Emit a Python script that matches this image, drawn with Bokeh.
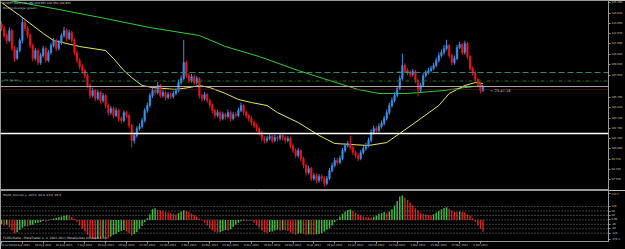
from bokeh.plotting import figure
from bokeh.models import Range1d, Span, Label, LinearAxis, FixedTicker, ColumnDataSource, PrintfTickFormatter
from bokeh.layouts import column
from bokeh.embed import file_html
from bokeh.resources import INLINE

symbol = "EURJPY,Daily"

opens = [112.95, 112.56, 111.87, 111.38, 112.36, 110.60, 109.62, 110.40, 111.38, 113.14,
         112.56, 111.87, 110.89, 109.62, 110.40, 109.22, 109.91, 110.60, 109.42, 110.20,
         110.89, 111.38, 110.60, 111.18, 111.87, 112.36, 111.58, 112.16, 111.38, 110.20,
         109.42, 108.83, 108.44, 107.95, 106.97, 105.99, 106.48, 105.70, 106.28, 105.50,
         105.99, 105.01, 104.32, 104.72, 104.03, 104.52, 103.74, 103.54, 104.32, 104.03,
         103.05, 101.58, 102.07, 102.76, 102.95, 103.54, 104.52, 105.01, 105.99, 106.48,
         106.28, 106.97, 105.99, 106.28, 105.79, 106.09, 105.89, 106.19, 106.48, 107.26,
         107.66, 109.22, 107.95, 107.46, 107.85, 107.26, 107.66, 105.99, 105.70, 106.09,
         105.50, 105.01, 104.52, 104.03, 104.32, 103.74, 104.13, 103.93, 104.32, 103.74,
         104.13, 104.03, 104.52, 105.01, 104.32, 104.03, 103.74, 103.34, 103.05, 102.76,
         102.36, 101.78, 101.58, 101.78, 101.97, 101.58, 101.87, 101.78, 102.07, 101.87,
         101.58, 101.78, 101.09, 100.60, 100.11, 100.60, 99.82, 99.13, 98.44, 98.84,
         97.86, 98.15, 97.66, 98.05, 97.86, 97.37, 97.86, 98.64, 99.13, 99.62,
         99.42, 99.82, 100.60, 101.09, 101.29, 100.89, 100.40, 100.11, 99.82, 100.40,
         100.80, 101.09, 101.58, 102.36, 102.76, 102.56, 102.95, 103.25, 103.74, 104.32,
         105.01, 105.50, 105.99, 106.68, 107.66, 108.93, 108.44, 108.24, 108.05, 108.34,
         107.46, 106.48, 106.97, 107.95, 108.24, 108.44, 108.64, 108.93, 109.42, 109.91,
         110.20, 110.60, 110.89, 109.91, 109.22, 109.62, 110.69, 110.99, 110.20, 111.09,
         109.81, 108.64, 108.24, 107.56, 107.07, 106.48]

highs = [113.25, 112.80, 112.10, 112.65, 112.50, 110.85, 110.70, 111.60, 113.60, 113.40,
         112.80, 112.05, 111.10, 110.65, 110.60, 110.15, 110.85, 110.80, 110.45, 111.15,
         111.65, 111.55, 111.45, 112.10, 112.70, 112.55, 112.45, 112.35, 111.55, 110.40,
         109.65, 109.05, 108.65, 108.15, 107.15, 106.75, 106.65, 106.55, 106.45, 106.25,
         106.15, 105.20, 104.95, 104.90, 104.80, 104.70, 103.95, 104.55, 104.50, 104.20,
         103.20, 102.35, 103.00, 103.25, 103.80, 104.75, 105.30, 106.25, 106.75, 106.70,
         107.30, 107.15, 106.55, 106.45, 106.35, 106.30, 106.45, 106.75, 107.55, 107.95,
         111.45, 109.40, 108.20, 108.10, 108.05, 107.90, 107.80, 106.20, 106.35, 106.25,
         105.70, 105.20, 104.70, 104.60, 104.50, 104.40, 104.30, 104.60, 104.50, 104.40,
         104.35, 104.80, 105.30, 105.15, 104.50, 104.20, 103.95, 103.55, 103.25, 102.95,
         102.55, 102.00, 102.05, 102.25, 102.15, 102.15, 102.05, 102.35, 102.25, 102.05,
         102.00, 101.95, 101.30, 100.80, 100.85, 100.75, 100.00, 99.30, 99.10, 99.00,
         98.40, 98.35, 98.30, 98.25, 98.05, 98.10, 98.90, 99.40, 99.90, 99.85,
         100.10, 100.85, 101.35, 101.55, 102.05, 101.10, 100.60, 100.35, 100.65, 101.05,
         101.35, 101.85, 102.65, 103.05, 103.00, 103.25, 103.55, 104.00, 104.60, 105.30,
         105.80, 106.30, 106.95, 107.95, 110.10, 109.15, 108.65, 108.45, 108.60, 108.50,
         107.65, 107.25, 108.20, 108.50, 108.70, 108.90, 109.20, 109.70, 110.20, 110.50,
         110.95, 111.45, 111.05, 110.10, 109.90, 110.95, 111.25, 111.15, 111.35, 111.25,
         109.95, 108.85, 108.40, 107.75, 107.25, 106.95]

lows = [112.30, 111.60, 111.05, 111.20, 110.35, 109.30, 109.45, 110.20, 111.10, 112.30,
        111.60, 110.60, 109.35, 109.40, 108.95, 109.00, 109.70, 109.20, 109.25, 110.00,
        110.70, 110.35, 110.40, 110.95, 111.65, 111.30, 111.40, 111.15, 109.95, 109.15,
        108.55, 108.15, 107.70, 106.70, 105.70, 105.80, 105.40, 105.50, 105.20, 105.30,
        104.75, 104.05, 104.10, 103.75, 103.85, 103.45, 103.25, 103.35, 103.80, 102.80,
        100.90, 101.30, 101.85, 102.55, 102.75, 103.35, 104.30, 104.80, 105.75, 106.00,
        106.10, 105.75, 105.80, 105.55, 105.60, 105.65, 105.70, 106.00, 106.30, 107.05,
        107.50, 107.70, 107.20, 107.25, 107.00, 107.05, 105.70, 105.40, 105.50, 105.25,
        104.75, 104.25, 103.75, 103.85, 103.45, 103.55, 103.65, 103.75, 103.45, 103.55,
        103.80, 103.85, 104.35, 104.05, 103.75, 103.45, 103.05, 102.80, 102.45, 102.05,
        101.50, 101.30, 101.35, 101.60, 101.30, 101.40, 101.50, 101.60, 101.60, 101.30,
        101.40, 100.85, 100.35, 99.85, 99.90, 99.55, 98.85, 98.15, 98.25, 97.60,
        97.65, 97.40, 97.45, 97.55, 97.04, 97.20, 97.70, 98.45, 98.95, 99.15,
        99.25, 99.65, 100.40, 100.90, 100.65, 100.15, 99.85, 99.55, 99.65, 100.20,
        100.60, 100.90, 101.40, 102.15, 102.30, 102.35, 102.75, 103.05, 103.55, 104.10,
        104.80, 105.30, 105.80, 106.50, 107.45, 108.20, 107.95, 107.80, 107.85, 107.20,
        105.90, 106.30, 106.80, 107.75, 108.05, 108.25, 108.45, 108.75, 109.20, 109.70,
        110.00, 110.40, 109.65, 108.95, 109.00, 109.45, 110.55, 109.95, 110.00, 109.55,
        108.40, 107.95, 107.30, 106.80, 106.20, 106.35]

closes = [112.56, 111.87, 111.38, 112.36, 110.60, 109.62, 110.40, 111.38, 113.14, 112.56,
          111.87, 110.89, 109.62, 110.40, 109.22, 109.91, 110.60, 109.42, 110.20, 110.89,
          111.38, 110.60, 111.18, 111.87, 112.36, 111.58, 112.16, 111.38, 110.20, 109.42,
          108.83, 108.44, 107.95, 106.97, 105.99, 106.48, 105.70, 106.28, 105.50, 105.99,
          105.01, 104.32, 104.72, 104.03, 104.52, 103.74, 103.54, 104.32, 104.03, 103.05,
          101.58, 102.07, 102.76, 102.95, 103.54, 104.52, 105.01, 105.99, 106.48, 106.28,
          106.97, 105.99, 106.28, 105.79, 106.09, 105.89, 106.19, 106.48, 107.26, 107.66,
          109.22, 107.95, 107.46, 107.85, 107.26, 107.66, 105.99, 105.70, 106.09, 105.50,
          105.01, 104.52, 104.03, 104.32, 103.74, 104.13, 103.93, 104.32, 103.74, 104.13,
          104.03, 104.52, 105.01, 104.32, 104.03, 103.74, 103.34, 103.05, 102.76, 102.36,
          101.78, 101.58, 101.78, 101.97, 101.58, 101.87, 101.78, 102.07, 101.87, 101.58,
          101.78, 101.09, 100.60, 100.11, 100.60, 99.82, 99.13, 98.44, 98.84, 97.86,
          98.15, 97.66, 98.05, 97.86, 97.37, 97.86, 98.64, 99.13, 99.62, 99.42,
          99.82, 100.60, 101.09, 101.29, 100.89, 100.40, 100.11, 99.82, 100.40, 100.80,
          101.09, 101.58, 102.36, 102.76, 102.56, 102.95, 103.25, 103.74, 104.32, 105.01,
          105.50, 105.99, 106.68, 107.66, 108.93, 108.44, 108.24, 108.05, 108.34, 107.46,
          106.48, 106.97, 107.95, 108.24, 108.44, 108.64, 108.93, 109.42, 109.91, 110.20,
          110.60, 110.89, 109.91, 109.22, 109.62, 110.69, 110.99, 110.20, 111.09, 109.81,
          108.64, 108.24, 107.56, 107.07, 106.48, 106.87]

macd_hist = [-40, -52, -45, -68, -95, -120, -112, -92, -72, -58,
             -60, -48, -44, -30, -28, -20, -10, -14, -6, 4,
             10, 18, 24, 30, 38, 44, 40, 26, 8, -20,
             -50, -80, -105, -135, -160, -170, -175, -168, -172, -160,
             -162, -165, -150, -135, -128, -110, -100, -92, -105, -120,
             -140, -128, -110, -80, -55, -20, 15, 50, 95, 104,
             92, 85, 78, 72, 66, 60, 52, 48, 62, 75,
             87, 80, 70, 58, 45, 30, 12, -5, -25, -50,
             -75, -95, -110, -115, -112, -100, -92, -96, -85, -65,
             -45, -25, -12, -8, -12, -6, -10, -25, -48, -72,
             -95, -112, -118, -110, -104, -95, -90, -100, -92, -96,
             -100, -115, -125, -135, -125, -120, -128, -135, -130, -132,
             -135, -130, -128, -120, -105, -90, -75, -50, -20, 5,
             30, 55, 75, 90, 95, 80, 65, 50, 40, 30,
             25, 22, 20, 28, 40, 55, 60, 70, 60, 75,
             95, 130, 170, 210, 220, 200, 180, 155, 130, 105,
             85, 65, 55, 48, 45, 42, 50, 65, 80, 95,
             108, 115, 100, 85, 72, 70, 75, 72, 68, 50,
             40, 15, -20, -50, -80, -105]

ma_fast_bars = [0, 7, 16, 20, 30, 40, 43, 47, 50, 54, 58, 67, 72, 76, 80, 86, 91, 96, 102, 106,
                114, 122, 128, 134, 141, 148, 153, 160, 168, 172, 178, 182, 185]
ma_fast = [115.10, 113.83, 112.07, 111.38, 110.79, 110.40, 109.62, 108.44, 107.75, 106.97,
           106.77, 106.58, 106.77, 106.97, 106.77, 106.19, 105.60, 105.30, 105.01, 104.32,
           103.34, 102.07, 101.29, 101.19, 101.09, 101.38, 102.27, 103.54, 105.01, 106.19,
           106.97, 107.26, 107.17]

ma_slow_bars = [3, 22, 38, 57, 76, 86, 99, 114, 126, 137, 145, 156, 170, 178, 185]
ma_slow = [115.30, 114.42, 113.63, 112.65, 111.87, 110.79, 109.81, 108.44, 107.46, 106.58,
           106.19, 106.19, 106.48, 106.77, 106.97]

date_tick_bars = [0, 8, 16, 24, 32, 40, 48, 56, 64, 72, 80, 88, 96, 104, 112, 120, 128, 136,
                  144, 152, 160, 168, 176, 184]
date_tick_labels = ["21 Jul 2011", "4 Aug 2011", "16 Aug 2011", "26 Aug 2011", "7 Sep 2011",
                    "19 Sep 2011", "29 Sep 2011", "11 Oct 2011", "21 Oct 2011", "2 Nov 2011",
                    "14 Nov 2011", "24 Nov 2011", "6 Dec 2011", "16 Dec 2011", "28 Dec 2011",
                    "9 Jan 2012", "19 Jan 2012", "31 Jan 2012", "10 Feb 2012", "22 Feb 2012",
                    "5 Mar 2012", "15 Mar 2012", "27 Mar 2012", "6 Apr 2012"]

price_ticks = [115.10, 114.03, 113.05, 112.07, 111.09, 110.01, 109.03, 107.95, 105.79, 104.81,
               103.74, 102.76, 101.78, 100.80, 99.72, 98.74, 97.76]

level_teal = 108.24
level_green = 107.41
bid_price = 106.87
level_red = 106.58
level_white = 102.27

macd_levels = [120, 80, 40, 0, -40, -80, -120]
macd_ticks = [233.7, 120, 80, 40, 0, -40, -80, -120, -176.3]
macd_tick_labels = ["233.7", "120", "80", "40", "0.00", "-40", "-80", "-120", "-176.3"]

# ---------------------------------------------------------------
BULL = "#3b8fe8"
BEAR = "#e5161c"
UP = "#3cc43c"
DOWN = "#d8201e"
FRAME = "#9a9a9a"
TXT = "#d0d0d0"
FONT = "DejaVu Sans"

n = len(closes)
bars = list(range(n))
src = ColumnDataSource(dict(
    x=bars, h=highs, l=lows,
    top=[max(o, c) for o, c in zip(opens, closes)],
    bottom=[min(o, c) for o, c in zip(opens, closes)],
    color=[BULL if c >= o else BEAR for o, c in zip(opens, closes)],
))

x_range = Range1d(-0.4, 233.2)

p1 = figure(width=625, height=190, x_range=x_range, y_range=Range1d(96.68, 115.30),
            output_backend="svg", toolbar_location=None,
            x_axis_location=None, y_axis_location=None,
            background_fill_color="black", border_fill_color="black",
            outline_line_color=FRAME, min_border_left=0, min_border_right=13,
            min_border_top=0, min_border_bottom=0)
p1.grid.grid_line_color = None

ax1 = LinearAxis(ticker=FixedTicker(ticks=price_ticks), formatter=PrintfTickFormatter(format="%.3f"))
ax1.axis_line_color = FRAME
ax1.major_tick_line_color = FRAME
ax1.major_tick_out = 2
ax1.major_tick_in = 0
ax1.minor_tick_line_color = None
ax1.major_label_text_font_size = "2.6px"
ax1.major_label_text_color = TXT
ax1.major_label_text_font = FONT
ax1.major_label_standoff = 1
p1.add_layout(ax1, "right")

# horizontal levels
p1.add_layout(Span(location=level_teal, dimension="width", line_color="#2f8c7c", line_dash="6 3", line_width=1))
p1.add_layout(Span(location=level_green, dimension="width", line_color="#2a6e2a", line_dash="4 2 1 2", line_width=1))
p1.add_layout(Span(location=bid_price, dimension="width", line_color="#a8a8a8", line_width=1))
p1.add_layout(Span(location=level_red, dimension="width", line_color="#7a1c1c", line_dash="1 1", line_width=1))
p1.add_layout(Span(location=level_white, dimension="width", line_color="#ffffff", line_width=1.5))

# moving averages
p1.line(ma_slow_bars, ma_slow, line_color="#2fcf2f", line_width=1)
p1.line(ma_fast_bars, ma_fast, line_color="#e8e85a", line_width=1)

# candles
p1.segment(x0="x", y0="h", x1="x", y1="l", line_color="color", line_width=1, source=src)
p1.vbar(x="x", width=0.62, top="top", bottom="bottom", fill_color="color", line_color="color",
        line_width=0.5, source=src)

# texts
p1.add_layout(Label(x=0.6, y=115.22, text=f"{symbol}  {opens[-1]:.3f} {highs[-1]:.3f} {lows[-1]:.3f} {closes[-1]:.3f}",
                    text_font_size="2.8px", text_color=TXT, text_font=FONT, text_baseline="top"))
p1.add_layout(Label(x=0.6, y=114.78, text="Moving Average (green)",
                    text_font_size="2.8px", text_color=TXT, text_font=FONT, text_baseline="top"))
p1.add_layout(Label(x=1.0, y=level_green, text="m1.      ho ww", text_font_size="2.6px",
                    text_color="#b8b8b8", text_font=FONT, text_baseline="middle"))
p1.add_layout(Label(x=152, y=level_teal, text="108.240", text_font_size="2.6px",
                    text_color="#3fb0a0", text_font=FONT, text_baseline="middle"))
p1.add_layout(Label(x=187.7, y=level_red - 0.1, text="<-23:47:16", text_font_size="3.6px",
                    text_color="#c0c0c0", text_font=FONT, text_baseline="middle"))

# price boxes on the scale
for price, bg in [(level_teal, "#22c8c8"), (bid_price, "#f0f0f0"), (level_white, "#f0f0f0")]:
    p1.add_layout(Label(x=233.2, y=price, text=f"{price:.3f}", text_font_size="2.6px",
                        text_color="black", text_font=FONT, text_baseline="middle",
                        background_fill_color=bg, x_offset=1))

# ---------------------------------------------------------------
p2 = figure(width=625, height=59, x_range=x_range, y_range=Range1d(-195, 265),
            output_backend="svg", toolbar_location=None,
            x_axis_location="below", y_axis_location=None,
            background_fill_color="black", border_fill_color="black",
            outline_line_color=FRAME, min_border_left=0, min_border_right=13,
            min_border_top=0, min_border_bottom=6)
p2.grid.grid_line_color = None

for lv in macd_levels:
    p2.add_layout(Span(location=lv, dimension="width", line_color="#7c7c7c", line_dash="1 2", line_width=1))

hist_colors = [UP] + [UP if macd_hist[i] >= macd_hist[i - 1] else DOWN for i in range(1, n)]
p2.vbar(x=bars, width=0.55, top=macd_hist, bottom=0, fill_color=hist_colors, line_color=None)

xax = p2.xaxis[0]
xax.ticker = FixedTicker(ticks=date_tick_bars)
xax.major_label_overrides = {b: s for b, s in zip(date_tick_bars, date_tick_labels)}
xax.major_label_text_align = "left"
xax.major_label_text_font_size = "2.6px"
xax.major_label_text_color = TXT
xax.major_label_text_font = FONT
xax.major_label_standoff = 0
xax.major_tick_out = 2
xax.major_tick_in = 0
xax.minor_tick_line_color = None
xax.axis_line_color = FRAME
xax.major_tick_line_color = FRAME

ax2 = LinearAxis(ticker=FixedTicker(ticks=macd_ticks),
                 major_label_overrides={t: s for t, s in zip(macd_ticks, macd_tick_labels)})
ax2.axis_line_color = FRAME
ax2.major_tick_line_color = FRAME
ax2.major_tick_out = 2
ax2.major_tick_in = 0
ax2.minor_tick_line_color = None
ax2.major_label_text_font_size = "2.6px"
ax2.major_label_text_color = TXT
ax2.major_label_text_font = FONT
ax2.major_label_standoff = 1
p2.add_layout(ax2, "right")

p2.add_layout(Label(x=0.6, y=240, text="MACD_Colored_v -105.0  -93.9 -93.9 -93.9",
                    text_font_size="2.8px", text_color=TXT, text_font=FONT, text_baseline="top"))
p2.add_layout(Label(x=0.6, y=-160, text="FXDD-Malta - MetaTrader 4, \u00a9 2001-2011 MetaQuotes Software Corp.",
                    text_font_size="3px", text_color=TXT, text_font=FONT, text_baseline="middle"))

layout = column(p1, p2, spacing=0)
open("out.html", "w").write(file_html(layout, INLINE))
